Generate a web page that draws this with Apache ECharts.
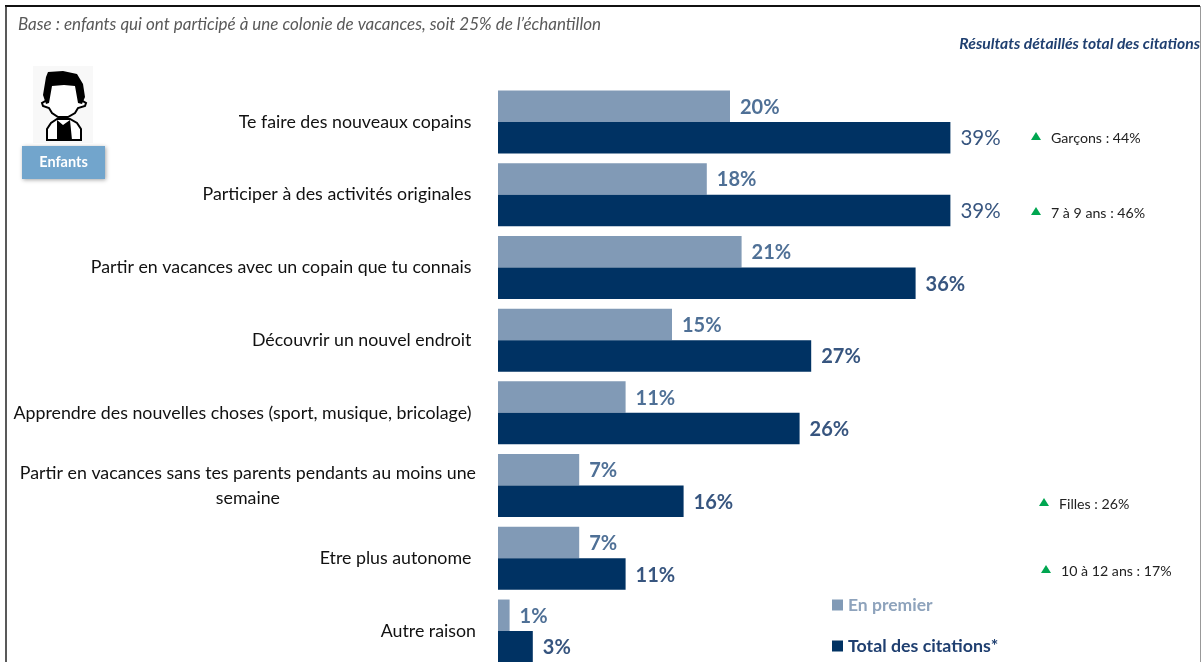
<!DOCTYPE html>
<html>
<head>
<meta charset="utf-8">
<title>Colonie de vacances</title>
<script src="https://cdn.jsdelivr.net/npm/echarts@6/dist/echarts.min.js"></script>
<style>
html, body { margin: 0; padding: 0; background: #fff; }
#main { width: 1203px; height: 662px; }
</style>
</head>
<body>
<div id="main"></div>
<script>
var categories = [
    'Te faire des nouveaux copains ',
    'Participer à des activités originales ',
    'Partir en vacances avec un copain que tu connais ',
    'Découvrir un nouvel endroit ',
    'Apprendre des nouvelles choses (sport, musique, bricolage) ',
    'Partir en vacances sans tes parents pendants au moins une\nsemaine',
    'Etre plus autonome ',
    'Autre raison'
];
var enPremier = [20, 18, 21, 15, 11, 7, 7, 1];
var totalCitations = [39, 39, 36, 27, 26, 16, 11, 3];
var seriesNames = ['En premier', 'Total des citations*'];
var calloutTexts = ['Garçons : 44%', '7 à 9 ans : 46%', 'Filles : 26%', '10 à 12 ans : 17%'];
var baseText = 'Base : enfants qui ont participé à une colonie de vacances, soit 25% de l’échantillon';
var detailText = 'Résultats détaillés total des citations';
var badgeText = 'Enfants';

var FONT = 'Lato, "Open Sans", sans-serif';
var calloutPos = [[1036, 138], [1036, 213], [1044, 504], [1046, 571]];

var myChart = echarts.init(document.getElementById('main'));

// encadré, titres et pictogramme
var graphics = [
    { type: 'line', shape: { x1: 5, y1: 6, x2: 1200, y2: 6 }, style: { stroke: '#111', lineWidth: 2 } },
    { type: 'line', shape: { x1: 6, y1: 6, x2: 6, y2: 662 }, style: { stroke: '#222', lineWidth: 1.5 } },
    { type: 'line', shape: { x1: 1200.5, y1: 6, x2: 1200.5, y2: 662 }, style: { stroke: '#999', lineWidth: 1 } },
    { type: 'text', x: 18, y: 25, style: { text: baseText, font: 'italic 17px ' + FONT, fill: '#595959', textVerticalAlign: 'middle' } },
    { type: 'text', x: 1200, y: 44, style: { text: detailText, font: 'italic bold 15.7px ' + FONT, fill: '#1f3f70', textAlign: 'right', textVerticalAlign: 'middle' } },
    // personnage
    { type: 'rect', shape: { x: 33, y: 66, width: 60, height: 77 }, style: { fill: '#f8f8f8' } },
    { type: 'polygon', shape: { points: [[47, 140], [47, 129], [51, 123], [57, 119], [70, 119], [77, 123], [81, 129], [81, 140]] }, style: { fill: '#fff', stroke: '#000', lineWidth: 2 } },
    { type: 'polygon', shape: { points: [[57, 120], [63, 125], [70, 120], [72, 140], [57, 140]] }, style: { fill: '#000' } },
    { type: 'polygon', shape: { points: [[50, 84], [47, 100], [42, 103], [43, 106], [49, 108], [52, 113], [58, 117], [68, 117], [75, 113], [78, 108], [85, 106], [86, 103], [81, 100], [76, 84]] }, style: { fill: '#fff', stroke: '#000', lineWidth: 2 } },
    { type: 'polygon', shape: { points: [[46, 77], [48, 72], [63, 71], [77, 74], [83, 84], [85, 97], [82, 104], [78, 103], [75, 86], [64, 85], [52, 86], [49, 103], [46, 104], [43, 95]] }, style: { fill: '#000' } },
    // badge
    { type: 'rect', shape: { x: 22, y: 146, width: 83, height: 33 }, style: { fill: '#72a5cc', shadowBlur: 4, shadowOffsetX: 1, shadowOffsetY: 1, shadowColor: 'rgba(0,0,0,0.35)' } },
    { type: 'text', x: 63.5, y: 162, style: { text: badgeText, font: 'bold 14.5px ' + FONT, fill: '#fff', textAlign: 'center', textVerticalAlign: 'middle' } }
];

// résultats détaillés à droite
calloutTexts.forEach(function (t, i) {
    var p = calloutPos[i];
    graphics.push({ type: 'polygon', shape: { points: [[p[0] - 5, p[1] + 2], [p[0], p[1] - 6], [p[0] + 5, p[1] + 2]] }, style: { fill: '#00a650' } });
    graphics.push({ type: 'text', x: p[0] + 15, y: p[1], style: { text: t, font: '14.2px ' + FONT, fill: '#222', textVerticalAlign: 'middle' } });
});

// les deux premiers "39%" sont en graisse normale
var totalData = totalCitations.map(function (v, i) {
    return i < 2 ? { value: v, label: { fontWeight: 'normal', fontSize: 20.5 } } : v;
});

var option = {
    animation: false,
    backgroundColor: '#fff',
    textStyle: { fontFamily: FONT },
    grid: { left: 498, top: 85.6, width: 696, height: 581.8, containLabel: false, outerBoundsMode: 'none' },
    legend: {
        orient: 'vertical',
        left: 827,
        top: 591,
        itemWidth: 11,
        itemHeight: 11,
        itemGap: 23,
        icon: 'rect',
        selectedMode: false,
        data: [
            { name: seriesNames[0], textStyle: { color: '#8ea3bc', fontSize: 17.5, fontWeight: 'bold', fontFamily: FONT } },
            { name: seriesNames[1], textStyle: { color: '#1f3f70', fontSize: 17.8, fontWeight: 'bold', fontFamily: FONT } }
        ]
    },
    xAxis: { type: 'value', min: 0, max: 60, show: false },
    yAxis: {
        type: 'category',
        inverse: true,
        data: categories,
        axisLine: { show: false },
        axisTick: { show: false },
        axisLabel: {
            margin: 22,
            interval: 0,
            formatter: function (v) {
                var lines = v.split('\n');
                if (lines.length === 1) return '{a|' + v + '}';
                return '{a|' + lines[0] + '}\n{c|' + lines[1] + '}';
            },
            rich: {
                a: { fontFamily: FONT, fontSize: 17.8, color: '#111', lineHeight: 25 },
                c: { fontFamily: FONT, fontSize: 17.8, color: '#111', lineHeight: 25, align: 'center' }
            }
        }
    },
    series: [
        {
            name: seriesNames[0],
            type: 'bar',
            data: enPremier,
            barWidth: 31.5,
            barGap: 0,
            itemStyle: { color: '#819ab6' },
            label: { show: true, position: 'right', distance: 10, offset: [0, 1], formatter: '{c}%', color: '#4f7096', fontSize: 20, fontWeight: 'bold', fontFamily: FONT }
        },
        {
            name: seriesNames[1],
            type: 'bar',
            data: totalData,
            barWidth: 31.5,
            barGap: 0,
            itemStyle: { color: '#003263' },
            label: { show: true, position: 'right', distance: 10, offset: [0, 1], formatter: '{c}%', color: '#37557f', fontSize: 20, fontWeight: 'bold', fontFamily: FONT }
        }
    ],
    graphic: graphics
};

myChart.setOption(option);
window.onresize = myChart.resize;
</script>
</body>
</html>
